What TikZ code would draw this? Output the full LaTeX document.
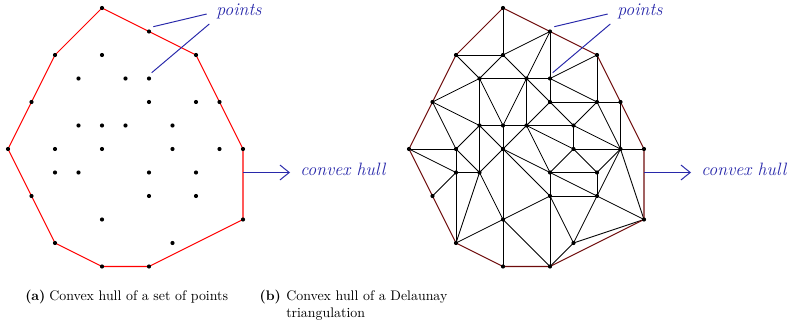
\documentclass[tikz,border=0pt]{standalone}
\usetikzlibrary{arrows.meta,calc}

\definecolor{annotblue}{RGB}{40,40,170}
\definecolor{hulldark}{RGB}{110,12,12}

% grid positions (column/row) of the point set
\newcommand{\ptset}{4/0,6/1,2/2,4/2,8/2,3/3,5/3,6/3,1/4,6/4,8/4,9/4,3/5,4/5,5/5,7/5,0/6,2/6,4/6,7/6,9/6,10/6,2/7,3/7,6/7,8/7,1/8,6/8,8/8,4/9,10/9,2/10,7/10,4/11,6/11}

\begin{document}
\begin{tikzpicture}[x=0.72pt,y=-0.72pt,
  hullA/.style={red, line width=0.75pt, line join=round},
  hullB/.style={hulldark, line width=0.75pt, line join=round},
  triedge/.style={black, line width=0.6pt},
  pointer/.style={annotblue, line width=0.7pt},
  annot/.style={annotblue, inner sep=0pt, anchor=base west, font=\fontsize{12.9}{15}\selectfont\itshape},
  capt/.style={inner sep=0pt, anchor=base west}]

\useasboundingbox (0,0) rectangle (792,330);

% point coordinates, left and right panel
\foreach \c/\r in \ptset {
  \coordinate (a\c-\r) at (8+23.5*\c, 8+23.5*\r);
  \coordinate (b\c-\r) at (409+23.5*\c, 8+23.5*\r);
}

% convex hull of the points
\draw[hullA] (a4-0) -- (a6-1) -- (a8-2) -- (a9-4) -- (a10-6) -- (a10-9) -- (a6-11) -- (a4-11) -- (a2-10) -- (a1-8) -- (a0-6) -- (a1-4) -- (a2-2) -- cycle;

% Delaunay triangulation
\foreach \p/\q in {4-0/4-2, 2-2/4-2, 6-1/4-2, 6-1/5-3, 6-1/6-3, 4-2/3-3, 4-2/5-3, 2-2/3-3,
  8-2/6-3, 8-2/8-4, 3-3/5-3, 3-3/3-5, 3-3/4-5, 5-3/4-5, 5-3/5-5, 5-3/6-3, 5-3/6-4,
  6-3/6-4, 6-3/8-4, 1-4/3-3, 1-4/3-5, 1-4/2-6, 6-4/8-4, 6-4/5-5, 6-4/7-5, 8-4/9-4,
  8-4/7-5, 8-4/9-6, 9-4/9-6, 3-5/4-5, 4-5/5-5, 5-5/7-5, 3-5/2-6, 3-5/3-7, 3-5/4-6,
  4-5/4-6, 5-5/4-6, 5-5/6-7, 5-5/7-6, 7-5/7-6, 7-5/9-6, 0-6/2-6, 0-6/2-7, 2-6/2-7,
  2-6/3-7, 2-7/3-7, 2-7/1-8, 2-7/2-10, 3-7/2-10, 3-7/4-9, 3-7/4-6, 4-6/4-9, 4-6/6-7,
  4-6/6-8, 7-6/9-6, 7-6/6-7, 7-6/8-7, 9-6/10-6, 9-6/8-7, 9-6/8-8, 9-6/10-9, 6-7/8-7,
  6-7/6-8, 6-7/8-8, 8-7/8-8, 6-8/8-8, 6-8/4-9, 6-8/6-11, 6-8/7-10, 8-8/10-9, 8-8/7-10,
  7-10/10-9, 7-10/6-11, 4-9/2-10, 4-9/4-11, 4-9/6-11}
  \draw[triedge] (b\p) -- (b\q);

\draw[hullB] (b4-0) -- (b6-1) -- (b8-2) -- (b9-4) -- (b10-6) -- (b10-9) -- (b6-11) -- (b4-11) -- (b2-10) -- (b1-8) -- (b0-6) -- (b1-4) -- (b2-2) -- cycle;

% dots
\foreach \c/\r in \ptset {
  \fill (a\c-\r) circle (1.5pt);
  \fill (b\c-\r) circle (1.5pt);
}

% Text Node
\node[annot] (ptsA) at (216,15.8) {points};
\node[annot] (ptsB) at (617,15.8) {points};
\node[annot] (cvxA) at (300,176) {convex hull};
\node[annot] (cvxB) at (701,176) {convex hull};

\draw[pointer] ($(a6-1)+(4.3,-4.8)$) -- ($(ptsA.base west)+(-9.3,-1.8)$);
\draw[pointer] ($(a6-3)+(2.7,-5.8)$) -- ($(ptsA.base west)+(-6.7,8.2)$);
\draw[pointer] ($(b6-1)+(4.3,-4.8)$) -- ($(ptsB.base west)+(-9.3,-1.8)$);
\draw[pointer] ($(b6-3)+(2.7,-5.8)$) -- ($(ptsB.base west)+(-6.7,8.2)$);

\coordinate (hullA) at ($(a10-6)!1/3!(a10-9)$);
\coordinate (hullB) at ($(b10-6)!1/3!(b10-9)$);
\coordinate (arrA) at ($(hullA)+(47,0)$);
\coordinate (arrB) at ($(hullB)+(47,0)$);
\draw[pointer,-{Straight Barb[length=6.7pt,width=10.8pt]}] (hullA) -- (arrA);
\draw[pointer,-{Straight Barb[length=6.7pt,width=10.8pt]}] (hullB) -- (arrB);

\node[capt] (capAlbl) at (25,300.5) {\textbf{(a)}};
\node[capt] (capAtxt) at (49,300.5) {Convex hull of a set of points};
\node[capt] (capBlbl) at (259.3,300.5) {\textbf{(b)}};
\node[capt] (capBtxt) at (286,300.5) {Convex hull of a Delaunay};
\node[capt] (capBtxt2) at (286,317.5) {triangulation};

\end{tikzpicture}
\end{document}
